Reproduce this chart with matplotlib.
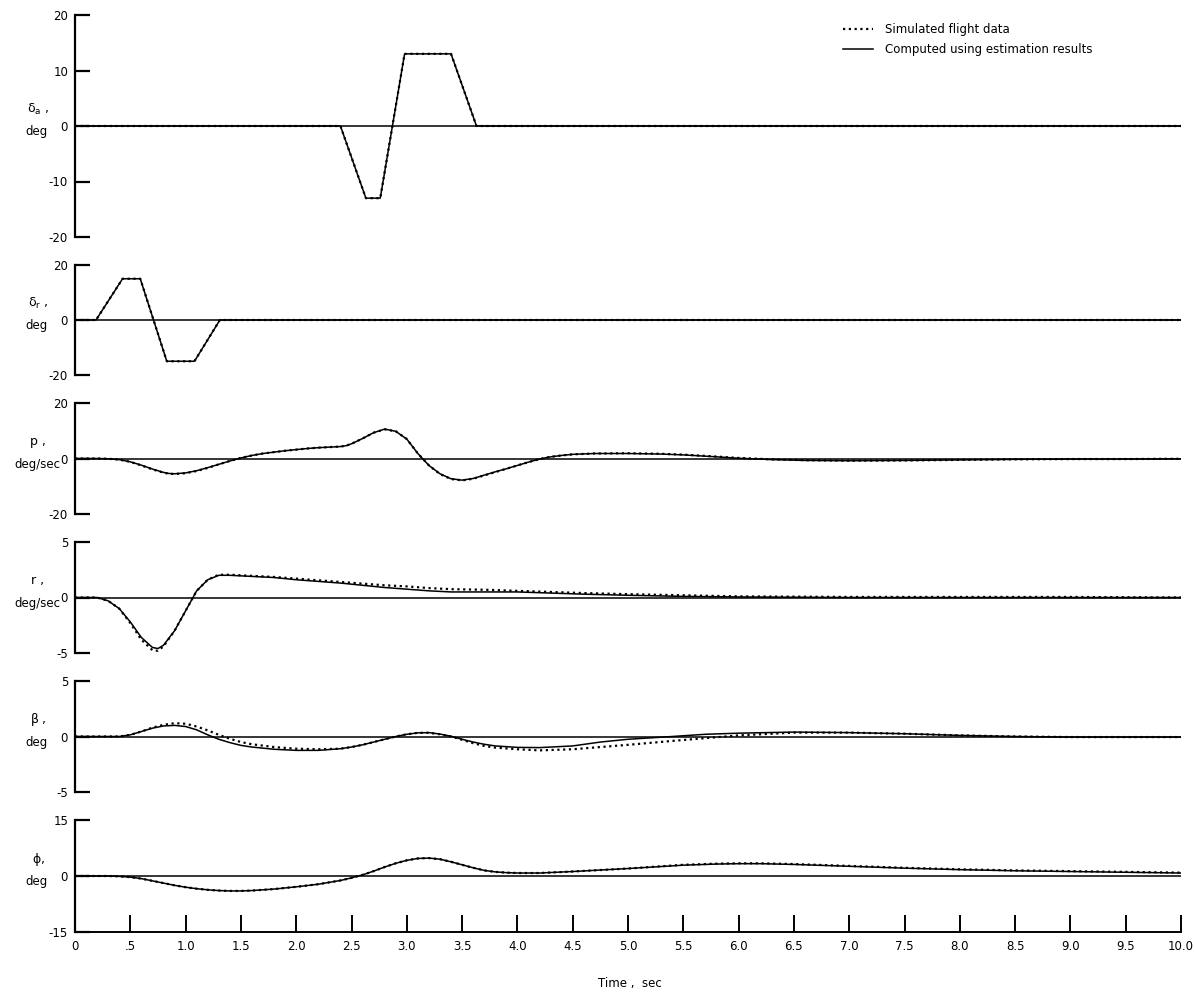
import matplotlib
matplotlib.use("Agg")
import matplotlib.pyplot as plt

FONT = ['Liberation Sans Narrow', 'DejaVu Sans']
plt.rcParams['font.family'] = FONT
plt.rcParams['mathtext.fontset'] = 'dejavusans'

# ---------------- data ----------------
# aileron deflection, deg
t_da = [0.0, 2.40, 2.63, 2.76, 2.98, 3.40, 3.63, 10.0]
da = [0, 0, -13, -13, 13, 13, 0, 0]

# rudder deflection, deg
t_dr = [0.0, 0.19, 0.43, 0.59, 0.83, 1.08, 1.31, 10.0]
dr = [0, 0, 15, 15, -15, -15, 0, 0]

# roll rate p, deg/sec
t_p = [0.0, 0.2, 0.3, 0.4, 0.5, 0.6, 0.7, 0.8, 0.85, 0.9, 1.0, 1.1, 1.2, 1.3, 1.4,
       1.5, 1.6, 1.7, 1.8, 1.9, 2.0, 2.1, 2.2, 2.3, 2.4, 2.45, 2.5, 2.6, 2.7, 2.8,
       2.9, 3.0, 3.1, 3.2, 3.3, 3.4, 3.5, 3.6, 3.7, 3.8, 3.9, 4.0, 4.1, 4.2, 4.3,
       4.4, 4.5, 4.7, 5.0, 5.3, 5.5, 5.8, 6.0, 6.3, 6.6, 7.0, 7.5, 8.0, 8.5, 9.0,
       9.5, 10.0]
p_sim = [0, 0, -0.1, -0.4, -1.2, -2.5, -3.9, -5.1, -5.5, -5.6, -5.3, -4.5, -3.4,
         -2.1, -0.9, 0.2, 1.1, 1.8, 2.3, 2.8, 3.2, 3.6, 3.9, 4.1, 4.3, 4.6, 5.3,
         7.2, 9.3, 10.5, 9.8, 7.0, 1.8, -2.5, -5.6, -7.4, -7.9, -7.3, -6.1, -4.9,
         -3.7, -2.5, -1.3, -0.2, 0.6, 1.1, 1.5, 1.8, 1.9, 1.7, 1.4, 0.7, 0.2, -0.3,
         -0.6, -0.8, -0.7, -0.5, -0.3, -0.2, -0.2, -0.1]
p_est = [0, 0, -0.1, -0.4, -1.2, -2.4, -3.8, -5.0, -5.4, -5.5, -5.2, -4.4, -3.3,
         -2.1, -0.9, 0.2, 1.1, 1.8, 2.3, 2.8, 3.2, 3.6, 3.9, 4.1, 4.3, 4.6, 5.3,
         7.2, 9.3, 10.6, 9.8, 7.0, 1.8, -2.5, -5.5, -7.3, -7.8, -7.2, -6.0, -4.8,
         -3.7, -2.5, -1.3, -0.2, 0.6, 1.1, 1.5, 1.8, 1.8, 1.6, 1.3, 0.6, 0.1, -0.4,
         -0.7, -0.8, -0.7, -0.5, -0.3, -0.2, -0.2, -0.1]

# yaw rate r, deg/sec
t_r = [0.0, 0.2, 0.3, 0.4, 0.5, 0.6, 0.7, 0.75, 0.8, 0.9, 1.0, 1.1, 1.2, 1.3, 1.4,
       1.6, 1.8, 2.0, 2.2, 2.4, 2.6, 2.8, 3.0, 3.2, 3.4, 3.7, 4.0, 4.3, 4.6, 5.0,
       5.5, 6.0, 7.0, 8.0, 9.0, 10.0]
r_sim = [0, 0, -0.3, -1.0, -2.3, -3.8, -4.75, -4.8, -4.4, -3.0, -1.2, 0.6, 1.6,
         2.05, 2.05, 1.95, 1.85, 1.7, 1.55, 1.4, 1.25, 1.1, 1.0, 0.85, 0.75, 0.7,
         0.6, 0.5, 0.4, 0.3, 0.2, 0.1, 0.05, 0.05, 0.05, 0.0]
r_est = [0, 0, -0.3, -1.0, -2.2, -3.6, -4.5, -4.6, -4.3, -3.0, -1.2, 0.6, 1.6,
         2.0, 2.0, 1.9, 1.8, 1.6, 1.45, 1.3, 1.1, 0.9, 0.75, 0.6, 0.5, 0.5, 0.5,
         0.4, 0.3, 0.2, 0.1, 0.05, 0.0, 0.0, 0.0, 0.0]

# sideslip beta, deg
t_b = [0.0, 0.4, 0.5, 0.6, 0.7, 0.8, 0.9, 1.0, 1.1, 1.2, 1.3, 1.4, 1.5, 1.6, 1.8,
       2.0, 2.2, 2.4, 2.5, 2.6, 2.7, 2.8, 2.9, 3.0, 3.1, 3.2, 3.3, 3.4, 3.5, 3.6,
       3.7, 3.8, 4.0, 4.2, 4.5, 4.75, 5.0, 5.4, 5.7, 6.0, 6.5, 7.0, 7.5, 8.0, 8.5,
       9.0, 9.5, 10.0]
b_sim = [0, 0, 0.15, 0.45, 0.8, 1.05, 1.2, 1.15, 0.9, 0.55, 0.15, -0.2, -0.5, -0.7,
         -0.95, -1.1, -1.15, -1.1, -0.95, -0.75, -0.5, -0.25, 0.0, 0.2, 0.33, 0.33,
         0.2, 0.0, -0.3, -0.6, -0.85, -1.0, -1.15, -1.25, -1.15, -0.95, -0.75, -0.4,
         -0.15, 0.1, 0.35, 0.35, 0.25, 0.1, 0.0, -0.05, -0.05, -0.05]
b_est = [0, 0, 0.15, 0.45, 0.75, 0.95, 1.0, 0.9, 0.6, 0.15, -0.25, -0.55, -0.8,
         -0.95, -1.15, -1.25, -1.25, -1.1, -0.95, -0.75, -0.5, -0.25, 0.0, 0.2,
         0.33, 0.35, 0.22, 0.02, -0.25, -0.5, -0.7, -0.85, -0.98, -1.0, -0.85, -0.5,
         -0.25, 0.0, 0.2, 0.3, 0.4, 0.35, 0.25, 0.1, 0.0, -0.05, -0.05, -0.05]

# bank angle phi, deg
t_phi = [0.0, 0.3, 0.4, 0.5, 0.6, 0.7, 0.8, 0.9, 1.0, 1.1, 1.2, 1.3, 1.4, 1.5, 1.6,
         1.8, 2.0, 2.2, 2.4, 2.5, 2.6, 2.7, 2.8, 2.9, 3.0, 3.1, 3.2, 3.3, 3.4, 3.5,
         3.6, 3.7, 3.8, 3.9, 4.0, 4.2, 4.5, 5.0, 5.5, 5.8, 6.0, 6.2, 6.5, 7.0, 7.5,
         8.0, 8.5, 9.0, 9.5, 10.0]
phi_sim = [0, 0, -0.1, -0.3, -0.7, -1.3, -1.9, -2.5, -3.0, -3.4, -3.7, -3.9, -4.0,
           -4.0, -3.9, -3.5, -2.9, -2.2, -1.2, -0.5, 0.3, 1.3, 2.4, 3.4, 4.2, 4.7,
           4.8, 4.5, 3.8, 3.0, 2.2, 1.5, 1.1, 0.9, 0.8, 0.8, 1.2, 2.0, 3.0, 3.3, 3.4,
           3.4, 3.2, 2.7, 2.2, 1.8, 1.5, 1.3, 1.1, 0.9]
phi_est = [0, 0, -0.1, -0.3, -0.7, -1.3, -1.9, -2.5, -3.0, -3.4, -3.7, -3.9, -4.0,
           -4.0, -3.9, -3.5, -2.9, -2.2, -1.2, -0.5, 0.3, 1.3, 2.4, 3.4, 4.2, 4.7,
           4.8, 4.5, 3.8, 3.0, 2.2, 1.5, 1.1, 0.9, 0.8, 0.8, 1.2, 2.0, 2.9, 3.2, 3.3,
           3.3, 3.1, 2.6, 2.1, 1.7, 1.4, 1.2, 1.0, 0.8]

panel_labels = [(r'$\mathrm{\delta_a}$ ,', 'deg'), (r'$\mathrm{\delta_r}$ ,', 'deg'),
                ('p ,', 'deg/sec'), ('r ,', 'deg/sec'), (r'$\mathrm{\beta}$ ,', 'deg'),
                (r'$\mathrm{\phi}$,', 'deg')]
y_ticks = [[20, 10, 0, -10, -20], [20, 0, -20], [20, 0, -20], [5, 0, -5], [5, 0, -5],
           [15, 0, -15]]
x_ticks = [0, 0.5, 1.0, 1.5, 2.0, 2.5, 3.0, 3.5, 4.0, 4.5, 5.0, 5.5, 6.0, 6.5, 7.0,
           7.5, 8.0, 8.5, 9.0, 9.5, 10.0]
x_ticklabels = ['0', '.5', '1.0', '1.5', '2.0', '2.5', '3.0', '3.5', '4.0', '4.5',
                '5.0', '5.5', '6.0', '6.5', '7.0', '7.5', '8.0', '8.5', '9.0', '9.5',
                '10.0']
legend_labels = ['Simulated flight data', 'Computed using estimation results']

series = [(t_da, da, da), (t_dr, dr, dr), (t_p, p_sim, p_est), (t_r, r_sim, r_est),
          (t_b, b_sim, b_est), (t_phi, phi_sim, phi_est)]

# ---------------- layout ----------------
W, H = 1194, 993
fig = plt.figure(figsize=(W / 100, H / 100), dpi=100)
x_left, x_right = 75, 1181
panels_px = [(15, 237), (265, 375), (403, 514), (542, 653), (681, 792), (820, 932)]

axes = []
for i, ((top, bot), (tt, ysim, yest), ticks, (lab1, lab2)) in enumerate(
        zip(panels_px, series, y_ticks, panel_labels)):
    ax = fig.add_axes([x_left / W, 1 - bot / H, (x_right - x_left) / W, (bot - top) / H])
    ax.set_xlim(0, 10)
    ax.set_ylim(ticks[-1], ticks[0])
    ax.axhline(0, color='black', lw=1.1, zorder=1)
    ls_sim, = ax.plot(tt, ysim, color='black', lw=1.6, ls=(0, (1, 1.6)), zorder=3)
    ls_est, = ax.plot(tt, yest, color='black', lw=1.1, zorder=2)
    for s in ['top', 'right']:
        ax.spines[s].set_visible(False)
    ax.spines['left'].set_linewidth(1.6)
    ax.set_yticks(ticks)
    ax.set_yticklabels([str(v) for v in ticks], fontsize=8.5)
    ax.tick_params(axis='y', direction='in', length=11, width=1.6, pad=5)
    if i < 5:
        ax.spines['bottom'].set_visible(False)
        ax.set_xticks([])
    else:
        ax.spines['bottom'].set_linewidth(1.4)
        ax.set_xticks(x_ticks)
        ax.set_xticklabels(x_ticklabels, fontsize=8.5)
        ax.tick_params(axis='x', direction='in', length=12, width=1.4, pad=6)
    ax.set_facecolor('none')
    zero_px = (top + bot) / 2
    fig.text(38 / W, 1 - (zero_px - 17) / H, lab1, ha='center', va='center',
             fontsize=9)
    fig.text(37 / W, 1 - (zero_px + 6) / H, lab2, ha='center', va='center',
             fontsize=8.5)
    axes.append((ax, ls_sim, ls_est))

ax0, h_sim, h_est = axes[0]
fig.legend([h_sim, h_est], legend_labels, loc='upper left',
           bbox_to_anchor=(838 / W, 1 - 18 / H), frameon=False, fontsize=8.5,
           handlelength=2.6, handletextpad=1.0, labelspacing=0.6, borderaxespad=0)

fig.text(630 / W, 1 - 983 / H, 'Time ,  sec', ha='center', va='center', fontsize=8.5)

fig.savefig('out.png', dpi=100, facecolor='white')
